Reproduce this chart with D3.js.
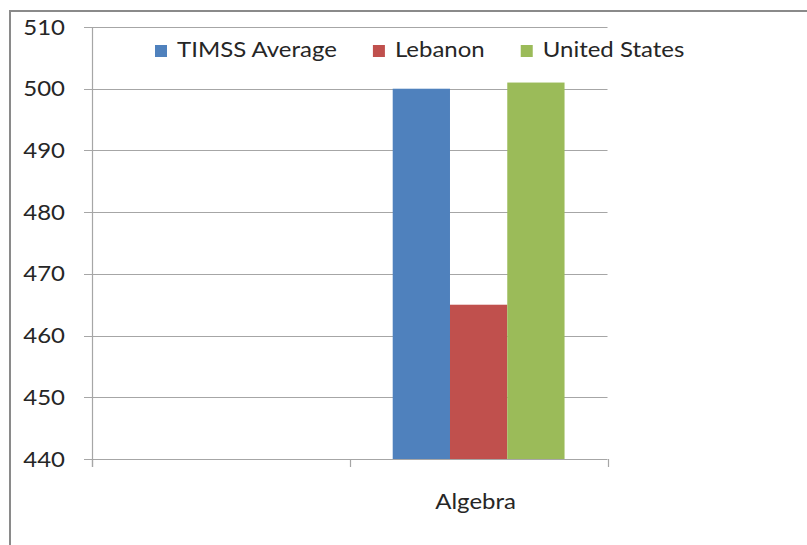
<!DOCTYPE html>
<html><head><meta charset="utf-8">
<script src="https://cdn.jsdelivr.net/npm/d3@7"></script>
<style>body{margin:0;background:#fff}svg{display:block}text{font-family:Lato,"Open Sans",sans-serif;fill:#262626}</style>
</head><body>
<script>
const categories = ["", "Algebra"];
const seriesNames = ["TIMSS Average", "Lebanon", "United States"];
const seriesColors = ["#4F81BD", "#C0504D", "#9BBB59"];
const values = {"TIMSS Average": [null, 500], "Lebanon": [null, 465], "United States": [null, 501]};
const yTicks = [440, 450, 460, 470, 480, 490, 500, 510];

(function () {
const W = 807, H = 545, stretch = 1.17;
const svg = d3.select("body").append("svg").attr("width", W).attr("height", H);

// outer frame (top and left visible)
svg.append("path").attr("d", `M10,545V11H807`).attr("fill", "none").attr("stroke", "#8a8a8a").attr("stroke-width", 2);

const pLeft = 92, pRight = 607.5, pTop = 27, pBottom = 459;
const y = d3.scaleLinear().domain([440, 510]).range([pBottom, pTop]);
const x = d3.scaleBand().domain(categories).range([pLeft, pRight]).padding(0);
const xs = d3.scaleBand().domain(seriesNames).range([0, x.bandwidth()]).paddingInner(0).paddingOuter(0.75);

function stretchText(sel) {
  sel.each(function () {
    const L = this.getComputedTextLength();
    this.__w = L * stretch;
    if (L > 0) d3.select(this).attr("textLength", L * stretch).attr("lengthAdjust", "spacingAndGlyphs");
  });
}

// gridlines
svg.append("g").selectAll("line").data(yTicks).join("line")
  .attr("x1", pLeft - 8).attr("x2", pRight).attr("y1", d => Math.round(y(d)) + 0.5).attr("y2", d => Math.round(y(d)) + 0.5)
  .attr("stroke", "#a6a6a6").attr("stroke-width", 1.2);

// y axis line
svg.append("line").attr("x1", pLeft + 0.5).attr("x2", pLeft + 0.5).attr("y1", pTop).attr("y2", pBottom + 8)
  .attr("stroke", "#a6a6a6").attr("stroke-width", 1.2);

// x category tick marks
const xTickPos = [pLeft, ...categories.map(c => x(c) + x.bandwidth())];
svg.append("g").selectAll("line").data(xTickPos).join("line")
  .attr("x1", d => Math.round(d) + 0.5).attr("x2", d => Math.round(d) + 0.5).attr("y1", pBottom).attr("y2", pBottom + 8)
  .attr("stroke", "#a6a6a6").attr("stroke-width", 1.2);

// y tick labels
svg.append("g").selectAll("text").data(yTicks).join("text")
  .attr("x", 65).attr("y", d => y(d) + 7.5).attr("text-anchor", "end").attr("font-size", 20.5)
  .text(d => d).call(stretchText);

// bars
seriesNames.forEach((s, si) => {
  svg.append("g").selectAll("rect").data(categories.map((c, i) => ({c, v: values[s][i]})).filter(d => d.v != null))
    .join("rect")
    .attr("x", d => x(d.c) + xs(s)).attr("width", xs.bandwidth())
    .attr("y", d => y(d.v)).attr("height", d => y(440) - y(d.v))
    .attr("fill", seriesColors[si]);
});

// category labels
svg.append("g").selectAll("text").data(categories).join("text")
  .attr("x", d => x(d) + x.bandwidth() / 2 - 3).attr("y", 509).attr("text-anchor", "middle").attr("font-size", 20.5)
  .text(d => d).call(stretchText);

// legend
let lx = 155;
const lg = svg.append("g");
seriesNames.forEach((s, i) => {
  lg.append("rect").attr("x", lx).attr("y", 45).attr("width", 12).attr("height", 12).attr("fill", seriesColors[i]);
  const t = lg.append("text").attr("x", lx + 22).attr("y", 57).attr("font-size", 20.5).text(s).call(stretchText);
  lx += 22 + t.node().__w + 36;
});
})();
</script>
</body></html>
